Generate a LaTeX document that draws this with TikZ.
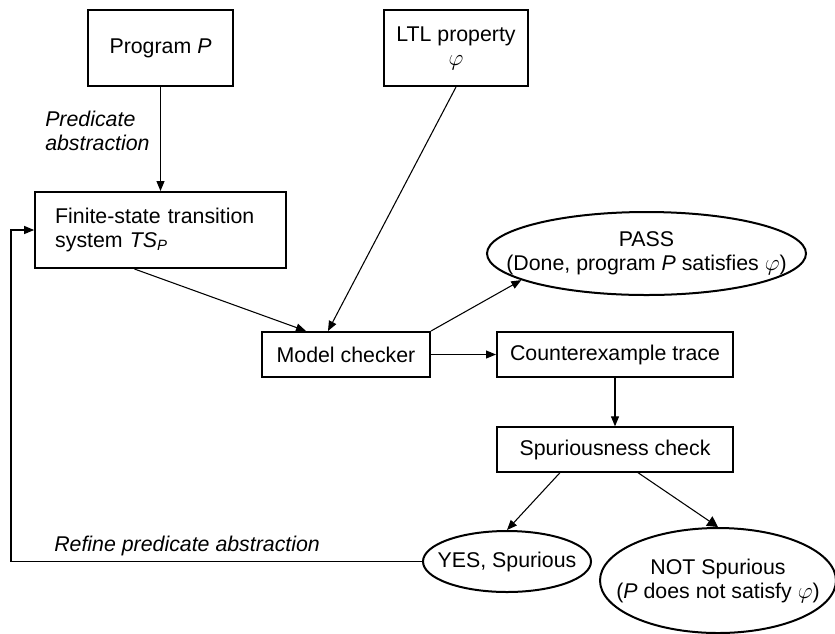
\documentclass[tikz,border=0pt]{standalone}
\usepackage{amsmath,amssymb}
\usepackage{fontspec}
\setmainfont{Liberation Sans}
\usepackage{tikz}
\usetikzlibrary{positioning,shapes.geometric,arrows.meta,calc}

\tikzset{
  stage/.style={draw,rectangle,line width=1.5pt,inner sep=0pt,align=center},
  verdict/.style={draw,ellipse,line width=1.5pt,inner xsep=-20pt,inner ysep=-8pt,align=center},
  flow/.style={-{Triangle[length=7.5pt,width=6pt]},line width=0.8pt},
  remark/.style={inner sep=0pt,align=left,font=\itshape},
}

\begin{document}
\begin{tikzpicture}[x=0.75pt,y=0.75pt,yscale=-1,xscale=1]
\fontsize{16}{18}\selectfont
\useasboundingbox (0,0) rectangle (835,633);

%Shape: Rectangle (inputs)
\node (prog) at (160.5,48) [stage,minimum width=108.75pt,minimum height=57pt] {Program \textit{P}};
\node (ltl) at (456,48) [stage,minimum width=108pt,minimum height=57pt] {LTL property\\$\varphi$};
%Shape: Rectangle (abstraction)
\node (fin) at (160.5,230) [stage,align=left,text width=158pt,inner xsep=15pt,minimum height=57pt] {Finite-state transition\\system \textit{TS\textsubscript{P}}};
%Shape: Rectangle (checking)
\node (mc) at (346,354.5) [stage,minimum width=126pt,minimum height=33.75pt] {Model checker};
\node (ce) at (615,354.5) [stage,minimum width=177pt,minimum height=33.75pt] {Counterexample trace};
\node (sc) at (615,449.5) [stage,line width=1pt,minimum width=177pt,minimum height=33.75pt] {Spuriousness check};
%Shape: Ellipse (outcomes)
\node (pass) at (646.5,253.5) [verdict,inner xsep=-40pt,minimum width=239.25pt,minimum height=62.25pt] {PASS\\(Done, program \textit{P} satisfies $\varphi$)};
\node (yes) at (507,561.5) [verdict,minimum width=126pt,minimum height=45.75pt] {YES, Spurious};
\node (nsp) at (718,580.5) [verdict,minimum width=177pt,minimum height=78.75pt] {NOT Spurious\\(\textit{P} does not satisfy $\varphi$)};

%Straight Lines
\draw [flow] (prog.south) -- (fin.north);
\draw [flow] ($(fin.south)+(-26,0)$) -- ($(mc.north)+(-40,0)$);
\draw [flow] (ltl.south) -- ($(mc.north)+(-18,0)$);
\draw [flow] (mc.north east) -- (pass.192);
\draw [flow] (mc.east) -- (ce.west);
\draw [flow] (ce.south) -- (sc.north);
\draw [flow] ($(sc.south)+(-55,0)$) -- (yes.north);
\draw [flow,-{Triangle[length=8pt,width=8.5pt]}] ($(sc.south)+(23,0)$) -- (nsp.north);
%Feedback loop
\draw [flow] (yes.west) -- ++(-411,0) coordinate (back) |- (fin.west);

% Text Node
\node (abs) at (45,111) [remark,anchor=north west] {Predicate\\abstraction};
% Text Node
\node (refine) at (54,551) [remark,anchor=base west] {Refine predicate abstraction};

\end{tikzpicture}
\end{document}
